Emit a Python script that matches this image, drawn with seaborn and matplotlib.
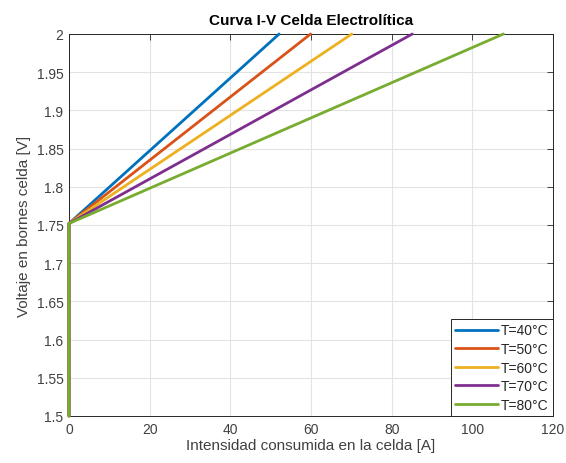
import numpy as np
import pandas as pd
import matplotlib
matplotlib.use("Agg")
import matplotlib.pyplot as plt
import seaborn as sns
from matplotlib.ticker import FuncFormatter

# Temperature series and the current reached at 2 V for each one
temperaturas = ["T=40°C", "T=50°C", "T=60°C", "T=70°C", "T=80°C"]
corriente_max = [52.1, 59.9, 70.1, 85.1, 107.7]

# Voltage breakpoints of every curve: open-circuit, reversible onset, upper limit
voltaje_puntos = [1.5, 1.752, 2.0]

colores = ["#0072BD", "#D95319", "#EDB120", "#7E2F8E", "#77AC30"]

filas = []
for t, imax in zip(temperaturas, corriente_max):
    corrientes = [0.0, 0.0, imax]
    for k, (i, v) in enumerate(zip(corrientes, voltaje_puntos)):
        filas.append({"I": i, "V": v, "T": t, "orden": k})
df = pd.DataFrame(filas)

sns.set_theme(style="whitegrid")
plt.rcParams["font.family"] = ["Liberation Sans", "DejaVu Sans"]

gris = "#404040"
fig = plt.figure(figsize=(5.66, 4.64), dpi=100)
ax = fig.add_axes([69 / 566, 1 - 417 / 464, (553 - 69) / 566, (417 - 35) / 464])

sns.lineplot(data=df, x="I", y="V", hue="T", units="T", estimator=None, sort=False,
             palette=colores, linewidth=2.0, ax=ax, legend=True)
for ln in ax.get_lines():
    ln.set_clip_on(False)
    ln.set_zorder(3)

ax.set_xlim(0, 120)
ax.set_ylim(1.5, 2.0)
ax.set_xticks(np.arange(0, 121, 20))
ax.set_yticks(np.round(np.arange(1.5, 2.0001, 0.05), 2))
ax.yaxis.set_major_formatter(FuncFormatter(lambda v, p: f"{v:g}"))

ax.set_facecolor("white")
ax.grid(True, color="#e3e3e3", linewidth=0.8)
for s in ax.spines.values():
    s.set_color("#262626")
    s.set_linewidth(0.7)
    s.set_zorder(2.5)
ax.tick_params(axis="both", direction="in", length=4, width=0.6, color="#262626",
               labelsize=10, labelcolor=gris, top=True, right=True, pad=4)

ax.set_xlabel("Intensidad consumida en la celda [A]", fontsize=11, color=gris, labelpad=2)
ax.set_ylabel("Voltaje en bornes celda [V]", fontsize=11, color=gris, labelpad=4)
ax.set_title("Curva I-V Celda Electrolítica", fontsize=11, fontweight="bold", color="#000000", pad=7)

leg = ax.legend(loc="lower right", fontsize=10, frameon=True, fancybox=False,
                edgecolor="#262626", framealpha=1, handlelength=3.1, handletextpad=0.2,
                borderpad=0.3, labelspacing=0.33, borderaxespad=0.0, title=None)
leg.get_frame().set_linewidth(0.7)
leg.set_zorder(5)
for line in leg.get_lines():
    line.set_linewidth(2.0)
for txt in leg.get_texts():
    txt.set_color("#262626")

fig.savefig("out.png", dpi=100, facecolor="white")
